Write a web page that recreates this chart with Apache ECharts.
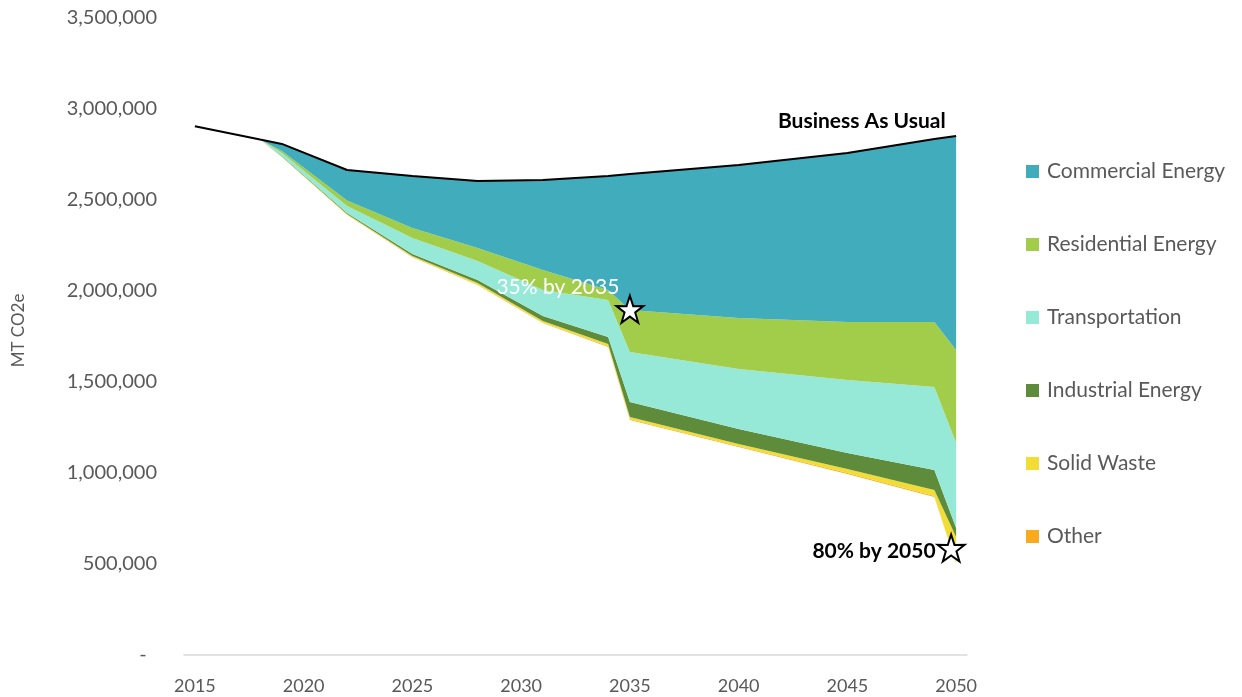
<!DOCTYPE html>
<html>
<head>
<meta charset="utf-8">
<title>Emissions reduction wedges</title>
<script src="https://cdn.jsdelivr.net/npm/echarts@6/dist/echarts.min.js"></script>
<style>
  html, body { margin: 0; padding: 0; background: #fff; }
  #main { width: 1242px; height: 697px; }
</style>
</head>
<body>
<div id="main"></div>
<script>
// category axis (every year, labels shown every 5)
var years = ['2015', '2016', '2017', '2018', '2019', '2020', '2021', '2022', '2023', '2024',
  '2025', '2026', '2027', '2028', '2029', '2030', '2031', '2032', '2033', '2034',
  '2035', '2036', '2037', '2038', '2039', '2040', '2041', '2042', '2043', '2044',
  '2045', '2046', '2047', '2048', '2049', '2050']

var keyYears = ['2015', '2018', '2019', '2022', '2025', '2028', '2031', '2034', '2035', '2040', '2045', '2049', '2050']

var bau = [2905000, 2832000, 2808000, 2665000, 2632000, 2604000, 2610000, 2632000, 2643000, 2692000, 2758000, 2835000, 2852000]
var remaining = [2905000, 2832000, 2736000, 2418000, 2186000, 2033000, 1824000, 1692000, 1291000, 1143000, 995000, 868000, 495000]
var other = [0, 0, 1000, 1000, 2000, 3000, 3000, 4000, 4000, 4000, 5000, 5000, 8000]
var solidWaste = [0, 0, 2000, 4000, 4000, 8000, 8000, 13000, 13000, 12000, 22000, 34000, 145000]
var industrial = [0, 0, 3000, 6000, 11000, 16000, 28000, 38000, 82000, 83000, 88000, 109000, 50000]
var transportation = [0, 0, 16000, 38000, 88000, 105000, 142000, 204000, 275000, 329000, 401000, 457000, 467000]
var residential = [0, 0, 11000, 30000, 55000, 71000, 110000, 54000, 231000, 281000, 319000, 357000, 511000]
var commercial = [0, 0, 39000, 168000, 286000, 368000, 495000, 627000, 747000, 840000, 928000, 1005000, 1176000]

var legendNames = ['Commercial Energy', 'Residential Energy', 'Transportation', 'Industrial Energy', 'Solid Waste', 'Other']

var font = 'Lato'
var grey = '#595959'
var star = 'path://M50,0 L61.8,35.1 L97.6,34.5 L68.8,56.2 L79.4,90.5 L50,70 L20.6,90.5 L31.2,56.2 L2.4,34.5 L38.2,35.1 Z'

function pairs(values) {
  var out = []
  for (var i = 0; i < keyYears.length; i++) {
    out.push([keyYears[i], values[i]])
  }
  return out
}

function wedge(name, values, color) {
  return {
    name: name,
    type: 'line',
    stack: 'total',
    symbol: 'none',
    lineStyle: { width: 0, opacity: 0 },
    areaStyle: { color: color, opacity: 1 },
    itemStyle: { color: color },
    data: pairs(values)
  }
}

var myChart = echarts.init(document.getElementById('main'))

var option = {
  backgroundColor: '#ffffff',
  animation: false,
  textStyle: { fontFamily: font },
  grid: {
    left: 184,
    right: 275,
    top: 18,
    bottom: 42,
    containLabel: false,
    outerBoundsMode: 'none'
  },
  legend: {
    data: legendNames,
    orient: 'vertical',
    left: 1021,
    top: 156,
    icon: 'rect',
    itemWidth: 13,
    itemHeight: 13,
    itemGap: 52,
    textStyle: {
      fontFamily: font,
      fontSize: 21,
      lineHeight: 21,
      color: grey,
      padding: [0, 0, 0, 3]
    }
  },
  xAxis: {
    type: 'category',
    data: years,
    boundaryGap: true,
    axisLine: { lineStyle: { color: '#d9d9d9', width: 1.5 } },
    axisTick: { show: false },
    axisLabel: {
      interval: 4,
      margin: 22,
      fontFamily: font,
      fontSize: 18,
      color: grey
    },
    splitLine: { show: false }
  },
  yAxis: {
    type: 'value',
    min: 0,
    max: 3500000,
    interval: 500000,
    name: 'MT CO2e',
    nameLocation: 'middle',
    nameGap: 157,
    nameTextStyle: { fontFamily: font, fontSize: 17, color: grey, padding: [0, 0, 0, 12] },
    axisLine: { show: false },
    axisTick: { show: false },
    splitLine: { show: false },
    axisLabel: {
      margin: 27,
      fontFamily: font,
      fontSize: 20,
      color: grey,
      formatter: function(v) {
        if (v === 0) return '-  '
        return v.toLocaleString('en-US')
      }
    }
  },
  series: [
    {
      name: 'base',
      type: 'line',
      stack: 'total',
      symbol: 'none',
      lineStyle: { width: 0, opacity: 0 },
      data: pairs(remaining)
    },
    wedge('Other', other, '#f9aa1f'),
    wedge('Solid Waste', solidWaste, '#f2dc36'),
    wedge('Industrial Energy', industrial, '#5e8c3b'),
    wedge('Transportation', transportation, '#96e8d7'),
    wedge('Residential Energy', residential, '#a2cd4a'),
    wedge('Commercial Energy', commercial, '#40acbc'),
    {
      name: 'Business As Usual',
      type: 'line',
      symbol: 'none',
      z: 5,
      lineStyle: { color: '#000000', width: 2 },
      itemStyle: { color: '#000000' },
      data: pairs(bau),
      markPoint: {
        silent: true,
        data: [
          {
            coord: ['2050', 2852000],
            symbol: 'circle',
            symbolSize: 1,
            itemStyle: { color: 'rgba(0,0,0,0)' },
            label: {
              show: true,
              formatter: 'Business As Usual',
              position: 'left',
              distance: 0,
              offset: [-10, -15],
              fontFamily: font,
              fontWeight: 'bold',
              fontSize: 21,
              color: '#000000'
            }
          },
          {
            coord: ['2035', 1900000],
            symbol: star,
            symbolSize: 27,
            itemStyle: { color: '#ffffff', borderColor: '#000000', borderWidth: 2 },
            label: {
              show: true,
              formatter: '35% by 2035',
              position: 'left',
              distance: 5,
              offset: [9, -22],
              fontFamily: font,
              fontSize: 21,
              color: '#ffffff'
            }
          },
          {
            coord: ['2050', 588000],
            symbol: star,
            symbolSize: 27,
            symbolOffset: [-5, 0],
            itemStyle: { color: '#ffffff', borderColor: '#000000', borderWidth: 2 },
            label: {
              show: true,
              formatter: '80% by 2050',
              position: 'left',
              distance: 5,
              offset: [4, 3],
              fontFamily: font,
              fontWeight: 'bold',
              fontSize: 21,
              color: '#000000'
            }
          }
        ]
      }
    }
  ]
}

myChart.setOption(option)
</script>
</body>
</html>
